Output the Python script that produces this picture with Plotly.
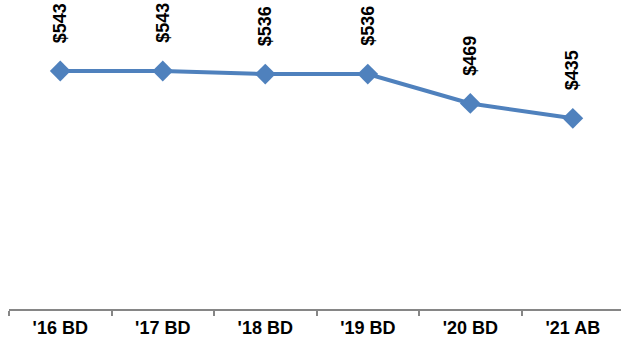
import plotly.graph_objects as go

categories = ["'16 BD", "'17 BD", "'18 BD", "'19 BD", "'20 BD", "'21 AB"]
values = [543, 543, 536, 536, 469, 435]
labels = ["$543", "$543", "$536", "$536", "$469", "$435"]

color = "#4F81BD"

fig = go.Figure()
fig.add_trace(go.Scatter(
    x=categories, y=values, mode="lines+markers",
    line=dict(color=color, width=4),
    marker=dict(symbol="diamond", size=16, color=color),
    hoverinfo="skip",
))

for c, v, t in zip(categories, values, labels):
    fig.add_annotation(
        x=c, y=v, text=t, textangle=-90, showarrow=False,
        xanchor="center", yanchor="bottom", yshift=26,
        font=dict(family="Liberation Sans, Arial", size=18, color="black", weight="bold"),
    )

fig.update_layout(
    width=621, height=343,
    margin=dict(l=9, r=0, t=0, b=34),
    paper_bgcolor="white", plot_bgcolor="white",
    showlegend=False,
    xaxis=dict(
        type="category", range=[-0.5, 5.47], tickson="boundaries",
        ticks="outside", ticklen=5, tickcolor="#868686", tickwidth=1.5,
        showline=True, linecolor="#868686", linewidth=1.5,
        showgrid=False, zeroline=False, ticklabelstandoff=2,
        tickfont=dict(family="Liberation Sans, Arial", size=18, color="black", weight="bold"),
    ),
    yaxis=dict(range=[0, 705], visible=False, showgrid=False, zeroline=False),
)

fig.write_html("out.html", config={"displayModeBar": False},
               post_script="document.body.style.margin='0';")
